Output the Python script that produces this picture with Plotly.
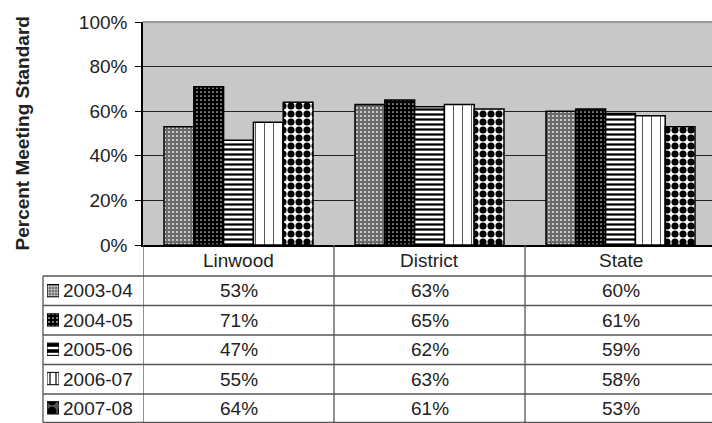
import plotly.graph_objects as go

categories = ["Linwood", "District", "State"]
series_names = ["2003-04", "2004-05", "2005-06", "2006-07", "2007-08"]
values = {
    "2003-04": [53, 63, 60],
    "2004-05": [71, 65, 61],
    "2005-06": [47, 62, 59],
    "2006-07": [55, 63, 58],
    "2007-08": [64, 61, 53],
}
y_ticks = [0, 20, 40, 60, 80, 100]
key_value = [1]

patterns = {
    "2003-04": dict(shape=".", bgcolor="#6a6a6a", fgcolor="#e0e0e0", size=4, solidity=0.22),
    "2004-05": dict(shape=".", bgcolor="#000000", fgcolor="#d0d0d0", size=4, solidity=0.15),
    "2005-06": dict(shape="-", bgcolor="#ffffff", fgcolor="#000000", size=5, solidity=0.45),
    "2006-07": dict(shape="|", bgcolor="#ffffff", fgcolor="#444444", size=9, solidity=0.1),
    "2007-08": dict(shape=".", bgcolor="#ffffff", fgcolor="#000000", size=8, solidity=0.62),
}
key_patterns = {
    "2003-04": dict(shape=".", bgcolor="#777777", fgcolor="#dddddd", size=3, solidity=0.3),
    "2004-05": dict(shape=".", bgcolor="#000000", fgcolor="#aaaaaa", size=4, solidity=0.2),
    "2005-06": dict(shape="-", bgcolor="#ffffff", fgcolor="#000000", size=6, solidity=0.6),
    "2006-07": dict(shape="|", bgcolor="#ffffff", fgcolor="#000000", size=6, solidity=0.2),
    "2007-08": dict(shape=".", bgcolor="#555555", fgcolor="#000000", size=10, solidity=0.6),
}

W, H = 712, 423
px_left = 143
px_top, px_bottom = 22, 245
tbl_left = 43
row_lines = [276, 305.5, 335, 364.5, 394, 422.5]
x_range = [-0.5, 2.479]

def px(x):
    return x / W

def py(y):
    return 1 - y / H

fig = go.Figure()
for name in series_names:
    fig.add_trace(go.Bar(
        x=categories, y=values[name], name=name,
        marker=dict(color=patterns[name]["bgcolor"],
                    pattern=dict(patterns[name], fillmode="replace"),
                    line=dict(color="#000000", width=1.5)),
        xaxis="x", yaxis="y", showlegend=False,
    ))

# legend keys in table: one tiny bar per series with its pattern
for name in series_names:
    fig.add_trace(go.Bar(
        x=key_value, y=[name], orientation="h", width=0.42, offset=-0.21,
        marker=dict(color=key_patterns[name]["bgcolor"],
                    pattern=dict(key_patterns[name], fillmode="replace"),
                    line=dict(color="#000000", width=1)),
        xaxis="x2", yaxis="y2", showlegend=False,
    ))

font_main = "Liberation Sans, Arial, sans-serif"
txt_color = "#222222"
fs = 19
line_col = "#555555"
shapes = []
shapes.append(dict(type="rect", xref="x domain", yref="y domain", x0=0, x1=1, y0=0, y1=1,
                   fillcolor="#c8c8ca", line=dict(width=0), layer="below"))
shapes.append(dict(type="line", xref="paper", yref="paper", x0=px(px_left), x1=1,
                   y0=py(px_top), y1=py(px_top), line=dict(color="#9a9a9a", width=2)))
for yy in row_lines:
    shapes.append(dict(type="line", xref="paper", yref="paper", x0=px(tbl_left), x1=1,
                       y0=py(yy), y1=py(yy), line=dict(color=line_col, width=1.3)))
shapes.append(dict(type="line", xref="paper", yref="paper", x0=px(tbl_left), x1=px(tbl_left),
                   y0=py(row_lines[0]), y1=py(row_lines[-1]), line=dict(color=line_col, width=1.3)))
for k in range(len(categories)):
    shapes.append(dict(type="line", xref="x", yref="paper", x0=k - 0.5, x1=k - 0.5,
                       y0=py(px_bottom), y1=py(row_lines[-1]), line=dict(color=line_col, width=1.3)))

annotations = []
annotations.append(dict(x=px(22), xref="paper", y=py((px_top + px_bottom) / 2), yref="paper",
                        xanchor="center", yanchor="middle", textangle=-90,
                        text="<b>Percent Meeting Standard</b>", showarrow=False,
                        font=dict(size=19, color=txt_color, family=font_main)))
for k, c in enumerate(categories):
    annotations.append(dict(x=c, xref="x", y=py((px_bottom + row_lines[0]) / 2), yref="paper",
                            xanchor="center", yanchor="middle",
                            text=c, showarrow=False, font=dict(size=fs, color=txt_color, family=font_main)))
for i, name in enumerate(series_names):
    yc = py((row_lines[i] + row_lines[i + 1]) / 2)
    annotations.append(dict(x=px(61), xref="paper", y=yc, yref="paper", xanchor="left", yanchor="middle",
                            text=name, showarrow=False, font=dict(size=fs, color=txt_color, family=font_main)))
    for k, c in enumerate(categories):
        annotations.append(dict(x=c, xref="x", y=yc, yref="paper", xanchor="center", yanchor="middle",
                                text=f"{values[name][k]}%", showarrow=False,
                                font=dict(size=fs, color=txt_color, family=font_main)))

fig.update_layout(
    width=W, height=H,
    margin=dict(l=0, r=0, t=0, b=0, autoexpand=False),
    paper_bgcolor="white",
    plot_bgcolor="white",
    barmode="group", bargap=0.22, bargroupgap=0,
    font=dict(family=font_main, color=txt_color),
    xaxis=dict(domain=[px(px_left), 1], range=x_range, showticklabels=False, ticks="",
               showline=True, linecolor="#000000", linewidth=1.5, showgrid=False,
               anchor="y", automargin=False),
    yaxis=dict(domain=[py(px_bottom), py(px_top)], range=[0, 100], tickvals=y_ticks,
               ticktext=[f"{v}%" for v in y_ticks],
               ticks="outside", ticklen=6, tickcolor="#000000", ticklabelstandoff=4,
               showline=True, linecolor="#000000", linewidth=1.5,
               showgrid=True, gridcolor="#222222", gridwidth=1.2,
               tickfont=dict(size=fs, color=txt_color),
               zeroline=False, anchor="x", automargin=False),
    xaxis2=dict(domain=[px(47), px(59)], range=[0, 1], visible=False, anchor="y2",
                fixedrange=True, automargin=False),
    yaxis2=dict(domain=[py(row_lines[-1]), py(row_lines[0])], visible=False, anchor="x2",
                type="category", categoryorder="array", categoryarray=series_names[::-1],
                range=[-0.5, 4.5], automargin=False),
    shapes=shapes,
    annotations=annotations,
)

fig.write_html("out.html", config={"displayModeBar": False},
               post_script="document.body.style.margin='0';document.body.style.padding='0';document.body.style.overflow='hidden';")
